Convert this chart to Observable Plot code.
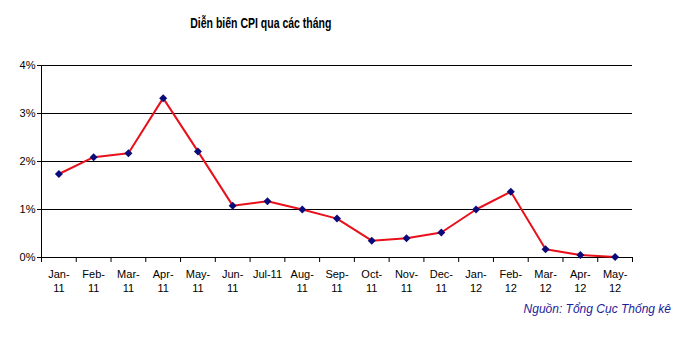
<!DOCTYPE html>
<html>
<head>
<meta charset="utf-8">
<script src="https://cdn.jsdelivr.net/npm/d3@7"></script>
<script src="https://cdn.jsdelivr.net/npm/@observablehq/plot@0.6"></script>
<style>
  html, body { margin: 0; padding: 0; background: #ffffff; }
  #wrap { position: relative; width: 683px; height: 340px; overflow: hidden; }
  #title { position: absolute; top: 14px; left: 0; width: 522px; text-align: center; }
  #title span { display: inline-block; transform: scaleX(0.7); transform-origin: center;
           font-family: "Liberation Sans", Arial, sans-serif;
           font-weight: bold; font-size: 15px; color: #000; white-space: nowrap; }
  #chart { position: absolute; top: 50px; left: 0; }
  #source { position: absolute; top: 302px; right: 12px;
            font-family: "Liberation Sans", Arial, sans-serif; font-style: italic;
            font-size: 12px; color: #1c1c9c; }
</style>
</head>
<body>
<div id="wrap">
  <div id="title"><span>Diễn biến CPI qua các tháng</span></div>
  <div id="chart"></div>
  <div id="source">Nguồn: Tổng Cục Thống kê</div>
</div>
<script>
const months = ["Jan-\n11","Feb-\n11","Mar-\n11","Apr-\n11","May-\n11","Jun-\n11","Jul-11","Aug-\n11","Sep-\n11","Oct-\n11","Nov-\n11","Dec-\n11","Jan-\n12","Feb-\n12","Mar-\n12","Apr-\n12","May-\n12"];
const cpi = [1.74, 2.09, 2.17, 3.32, 2.21, 1.08, 1.17, 1.00, 0.81, 0.35, 0.40, 0.52, 1.00, 1.37, 0.17, 0.05, 0.01];
const yTicks = [0, 1, 2, 3, 4];

const data = months.map((m, i) => ({label: m, idx: i + 0.5, value: cpi[i]}));
const boundaries = d3.range(months.length + 1);

const chart = Plot.plot({
  width: 683,
  height: 250,
  marginLeft: 41,
  marginRight: 51,
  marginTop: 15,
  marginBottom: 43,
  style: {fontFamily: "'Liberation Sans', Arial, sans-serif", fontSize: "11px", background: "transparent", color: "#000"},
  x: {domain: [0, months.length], axis: null, label: null},
  y: {domain: [0, 4], axis: null, label: null},
  marks: [
    Plot.ruleY(yTicks, {stroke: "#000", strokeWidth: 1}),
    Plot.ruleX([0], {stroke: "#000", strokeWidth: 1}),
    Plot.axisY(yTicks, {tickSize: 4, tickPadding: 2, tickFormat: d => d + "%", stroke: "#000", fontSize: 11, label: null}),
    Plot.axisX(boundaries, {tickSize: 5, tickFormat: () => "", stroke: "#000", label: null}),
    Plot.text(data, {x: "idx", text: "label", frameAnchor: "bottom", dy: 10, lineAnchor: "top", lineHeight: 1.3, fontSize: 11, fill: "#000"}),
    Plot.line(data, {x: "idx", y: "value", stroke: "#e8101a", strokeWidth: 2}),
    Plot.dot(data, {x: "idx", y: "value", symbol: "diamond2", r: 3.6, fill: "#0a0a78", stroke: "none"})
  ]
});
document.getElementById("chart").appendChild(chart);
</script>
</body>
</html>
